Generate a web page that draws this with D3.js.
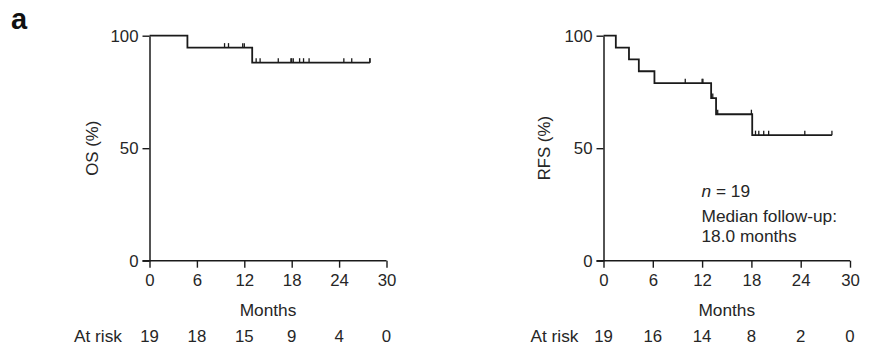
<!DOCTYPE html>
<html>
<head>
<meta charset="utf-8">
<script src="https://cdn.jsdelivr.net/npm/d3@7"></script>
<style>
  html, body { margin: 0; padding: 0; background: #fff; }
  svg { display: block; }
  text { font-family: "Liberation Sans", Arial, Helvetica, sans-serif; fill: #262626; }
</style>
</head>
<body>
<svg id="chart" width="878" height="357"></svg>
<script>
// ---- Data ----
const monthTicks = [0, 6, 12, 18, 24, 30];
const percentTicks = [0, 50, 100];

const osAtRisk = [19, 18, 15, 9, 4, 0];
const rfsAtRisk = [19, 16, 14, 8, 2, 0];

// Overall survival: event times (months) and survival (%) after each event
const osEventTimes = [4.8, 13.0];
const osSurvival = [94.7, 88.0];
const osCensorTimes = [9.5, 10.0, 11.8, 12.0, 13.5, 14.0, 16.3, 17.9, 18.0, 18.2, 19.0, 19.5, 20.2, 24.6, 25.6, 27.9, 27.9];
const osFollowEnd = 27.9;

// Relapse-free survival
const rfsEventTimes = [1.5, 3.1, 4.3, 6.2, 13.1, 13.7, 18.1];
const rfsSurvival = [94.7, 89.5, 84.2, 78.9, 72.3, 65.1, 55.8];
const rfsCensorTimes = [9.95, 12.0, 12.1, 13.3, 13.9, 18.0, 18.5, 18.9, 19.5, 20.1, 24.5, 27.8];
const rfsFollowEnd = 27.8;

const annotationLines = ["n = 19", "Median follow-up:", "18.0 months"];

// ---- Drawing ----
const svg = d3.select("#chart");
const ink = "#1a1a1a";

svg.append("text")
  .attr("x", 11).attr("y", 28.5)
  .attr("font-size", 29).attr("font-weight", "bold")
  .style("fill", "#111")
  .text("a");

function panel(cfg) {
  const g = svg.append("g");
  const x = d3.scaleLinear().domain([0, 30]).range([cfg.x0, cfg.x1]);
  const y = d3.scaleLinear().domain([0, 100]).range([cfg.y0, cfg.y1]);

  const xAxis = d3.axisBottom(x).tickValues(monthTicks).tickSize(7).tickSizeOuter(0).tickPadding(6);
  const yAxis = d3.axisLeft(y).tickValues(percentTicks).tickSize(7).tickSizeOuter(0).tickPadding(4);

  const gx = g.append("g").attr("transform", `translate(0,${cfg.y0})`).call(xAxis);
  const gy = g.append("g").attr("transform", `translate(${cfg.x0},0)`).call(yAxis);
  [gx, gy].forEach(a => {
    a.selectAll("path.domain").attr("stroke", ink).attr("stroke-width", 1.5);
    a.selectAll(".tick line").attr("stroke", ink).attr("stroke-width", 1.4);
    a.selectAll(".tick text").attr("font-size", 16.8).style("fill", "#262626")
      .attr("font-family", "Liberation Sans, Arial, sans-serif");
  });
  gx.select("path.domain").attr("d", `M${cfg.x0 - 7},0H${cfg.x1}`);

  g.append("text")
    .attr("transform", `translate(${cfg.ylabX},${(cfg.y0 + cfg.y1) / 2}) rotate(-90)`)
    .attr("text-anchor", "middle").attr("dominant-baseline", "central")
    .attr("font-size", 16.8)
    .text(cfg.ylabel);

  g.append("text")
    .attr("x", (cfg.x0 + cfg.x1) / 2).attr("y", 316)
    .attr("text-anchor", "middle").attr("font-size", 17.3)
    .text("Months");

  g.append("text")
    .attr("x", cfg.atRiskX).attr("y", 341.5)
    .attr("text-anchor", "end").attr("font-size", 17.3)
    .text("At risk");
  g.selectAll("text.risk").data(cfg.atRisk).enter().append("text")
    .attr("class", "risk")
    .attr("x", (d, i) => x(monthTicks[i]))
    .attr("y", 341.5)
    .attr("text-anchor", "middle").attr("font-size", 16.8)
    .text(d => d);

  const pts = [[0, 100]];
  cfg.eventTimes.forEach((t, i) => pts.push([t, cfg.survival[i]]));
  pts.push([cfg.end, cfg.survival[cfg.survival.length - 1]]);
  const line = d3.line().x(d => x(d[0])).y(d => y(d[1])).curve(d3.curveStepAfter);
  g.append("path").datum(pts)
    .attr("d", line).attr("fill", "none")
    .attr("stroke", ink).attr("stroke-width", 1.8);

  const levelAt = t => {
    let s = 100;
    cfg.eventTimes.forEach((et, i) => { if (et <= t) s = cfg.survival[i]; });
    return s;
  };
  g.selectAll("line.cens").data(cfg.censor).enter().append("line")
    .attr("class", "cens")
    .attr("x1", d => x(d)).attr("x2", d => x(d))
    .attr("y1", d => y(levelAt(d)))
    .attr("y2", d => y(levelAt(d)) - 4.5)
    .attr("stroke", ink).attr("stroke-width", 1.3);

  return { g, x, y };
}

panel({
  x0: 149.5, x1: 386.5, y0: 260.7, y1: 35.7,
  ylabel: "OS (%)", ylabX: 92, atRiskX: 122,
  atRisk: osAtRisk, eventTimes: osEventTimes, survival: osSurvival,
  censor: osCensorTimes, end: osFollowEnd
});

const right = panel({
  x0: 603.5, x1: 850, y0: 260.7, y1: 35.7,
  ylabel: "RFS (%)", ylabX: 544, atRiskX: 578.5,
  atRisk: rfsAtRisk, eventTimes: rfsEventTimes, survival: rfsSurvival,
  censor: rfsCensorTimes, end: rfsFollowEnd
});

const ann = right.g.append("g");
const t0 = ann.append("text").attr("x", 701.5).attr("y", 197).attr("font-size", 17.3);
t0.append("tspan").attr("font-style", "italic").text(annotationLines[0].split(" ")[0]);
t0.append("tspan").text(" " + annotationLines[0].split(" ").slice(1).join(" "));
ann.append("text").attr("x", 701.5).attr("y", 221.5).attr("font-size", 17.3).text(annotationLines[1]);
ann.append("text").attr("x", 701.5).attr("y", 242.3).attr("font-size", 17.3).text(annotationLines[2]);
</script>
</body>
</html>
